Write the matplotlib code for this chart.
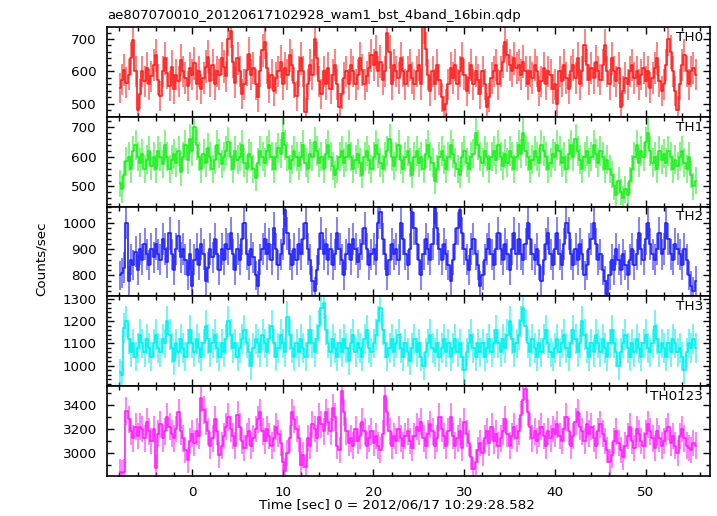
"""
WAM light curve, 5 energy bands stacked (QDP style).
"""
import numpy as np
import matplotlib
matplotlib.use('Agg')
import matplotlib.pyplot as plt
from matplotlib.ticker import MultipleLocator

# ==============================================================================
# Data (counts/sec per 0.25 s bin, starting at T0)
# ==============================================================================
T0 = -8.1
DT = 0.25

TITLE = 'ae807070010_20120617102928_wam1_bst_4band_16bin.qdp'
XLABEL = 'Time [sec] 0 = 2012/06/17 10:29:28.582'
YLABEL = 'Counts/sec'
BANDS = ['TH0', 'TH1', 'TH2', 'TH3', 'TH0123']

th0 = [548, 575, 605, 565, 590, 640, 697, 600, 482, 530, 600, 570, 610, 560, 585, 620,
       650, 575, 525, 600, 640, 595, 555, 615, 545, 590, 570, 635, 600, 580, 555, 610,
       590, 625, 560, 600, 545, 580, 615, 645, 570, 620, 560, 600, 590, 640, 615, 585,
       700, 725, 630, 565, 640, 600, 530, 560, 605, 655, 590, 610, 560, 520, 600, 665,
       690, 610, 550, 590, 540, 580, 600, 630, 560, 610, 590, 650, 620, 565, 525, 600,
       640, 600, 475, 560, 620, 590, 700, 640, 570, 530, 600, 560, 610, 545, 590, 620,
       560, 490, 530, 580, 600, 560, 620, 600, 560, 590, 640, 605, 560, 585, 610, 650,
       620, 660, 600, 630, 575, 600, 720, 660, 560, 620, 600, 580, 640, 600, 560, 600,
       620, 580, 560, 600, 620, 560, 740, 670, 590, 540, 600, 560, 620, 575, 520, 480,
       500, 560, 610, 580, 620, 560, 600, 640, 590, 540, 580, 620, 560, 600, 575, 530,
       600, 560, 490, 520, 580, 600, 620, 560, 600, 630, 690, 650, 620, 600, 640, 610,
       620, 590, 630, 600, 560, 600, 580, 620, 600, 540, 570, 610, 560, 600, 590, 545,
       560, 500, 600, 570, 620, 580, 545, 600, 620, 580, 640, 560, 600, 680, 620, 575,
       610, 580, 630, 600, 575, 620, 680, 600, 560, 640, 600, 570, 610, 490, 540, 580,
       560, 600, 620, 580, 600, 560, 590, 610, 570, 600, 550, 580, 610, 640, 570, 540,
       560, 620, 700, 660, 600, 540, 480, 560, 620, 650, 600, 560, 600, 610, 590]

th1 = [510, 490, 540, 585, 600, 560, 620, 640, 600, 580, 610, 560, 590, 620, 570, 600,
       560, 620, 600, 575, 640, 600, 560, 590, 610, 580, 620, 550, 600, 640, 590, 660,
       620, 700, 640, 600, 560, 610, 580, 630, 600, 560, 590, 640, 610, 575, 600, 620,
       650, 600, 560, 620, 590, 600, 640, 580, 560, 610, 600, 560, 530, 580, 620, 600,
       580, 620, 640, 600, 560, 600, 630, 610, 680, 640, 600, 560, 590, 620, 600, 570,
       600, 640, 580, 560, 610, 600, 650, 620, 580, 600, 560, 610, 640, 600, 570, 540,
       560, 600, 620, 580, 600, 640, 600, 560, 590, 610, 580, 540, 600, 620, 590, 560,
       600, 640, 610, 580, 560, 600, 620, 660, 600, 570, 600, 640, 590, 560, 600, 620,
       580, 540, 600, 620, 580, 600, 560, 610, 640, 600, 580, 520, 560, 600, 620, 590,
       560, 600, 640, 610, 580, 560, 540, 600, 620, 580, 560, 600, 610, 680, 640, 600,
       580, 620, 600, 560, 600, 620, 590, 640, 600, 570, 610, 580, 620, 600, 560, 600,
       640, 610, 680, 620, 600, 560, 590, 620, 600, 580, 640, 620, 600, 560, 580, 610,
       600, 640, 620, 580, 600, 560, 610, 640, 600, 660, 620, 590, 560, 600, 620, 580,
       600, 640, 610, 580, 620, 600, 560, 590, 560, 540, 500, 470, 520, 480, 460, 490,
       470, 520, 560, 600, 640, 580, 620, 600, 650, 680, 620, 580, 600, 560, 620, 590,
       610, 580, 620, 600, 560, 590, 570, 600, 620, 580, 560, 600, 540, 500, 520]

th2 = [800, 810, 830, 1000, 780, 860, 840, 890, 820, 900, 860, 920, 880, 840, 900, 870,
       920, 880, 860, 940, 900, 850, 960, 880, 820, 900, 950, 870, 900, 860, 800, 880,
       760, 860, 900, 840, 920, 880, 780, 830, 900, 870, 940, 880, 820, 900, 860, 920,
       900, 960, 880, 820, 900, 860, 940, 1000, 880, 840, 900, 870, 800, 760, 860, 900,
       940, 880, 920, 860, 980, 900, 840, 880, 920, 1050, 960, 880, 840, 900, 860, 920,
       880, 940, 1000, 900, 860, 780, 740, 820, 900, 960, 880, 920, 860, 900, 840, 880,
       960, 900, 860, 800, 880, 920, 860, 940, 900, 850, 880, 920, 980, 900, 840, 880,
       900, 860, 1000, 1040, 940, 880, 800, 860, 920, 880, 900, 860, 1000, 940, 880, 840,
       900, 1040, 980, 920, 860, 800, 880, 940, 900, 860, 920, 1060, 980, 900, 860, 920,
       880, 840, 780, 860, 920, 980, 1050, 960, 900, 860, 820, 900, 940, 880, 840, 760,
       800, 860, 900, 940, 880, 840, 900, 960, 900, 860, 920, 880, 820, 900, 960, 880,
       940, 880, 860, 920, 1000, 940, 880, 860, 900, 840, 780, 860, 920, 960, 880, 840,
       900, 960, 880, 840, 920, 1000, 960, 880, 840, 900, 860, 920, 880, 800, 840, 900,
       940, 1000, 920, 860, 880, 820, 780, 730, 800, 860, 820, 900, 860, 820, 880, 840,
       800, 860, 900, 840, 880, 960, 900, 860, 940, 1000, 920, 880, 860, 900, 960, 880,
       900, 1000, 940, 880, 860, 920, 900, 880, 840, 900, 860, 800, 760, 740, 780]

th3 = [970, 960, 1170, 1200, 1120, 1060, 1100, 1040, 1080, 1140, 1100, 1060, 1120, 1080, 1040, 1100,
       1140, 1080, 1060, 1120, 1100, 1200, 1140, 1080, 1020, 1100, 1060, 1120, 1080, 1040, 1100, 1160,
       1100, 1060, 1120, 1080, 1040, 1100, 1180, 1120, 1060, 1100, 1140, 1080, 1040, 1100, 1060, 1120,
       1200, 1140, 1080, 1100, 1040, 1080, 1120, 1160, 1100, 1060, 1000, 1080, 1120, 1100, 1060, 1140,
       1100, 1060, 1120, 1180, 1100, 1040, 1080, 1140, 1100, 1060, 1220, 1140, 1080, 1040, 1100, 1060,
       1120, 1080, 1040, 1100, 1160, 1100, 1060, 1120, 1180, 1260, 1280, 1160, 1100, 1060, 1120, 1080,
       1040, 1100, 1060, 1120, 1080, 1020, 1100, 1140, 1060, 1100, 1080, 1040, 1120, 1160, 1080, 1060,
       1100, 1140, 1200, 1260, 1160, 1100, 1040, 1080, 1120, 1060, 1100, 1140, 1080, 1040, 1100, 1060,
       1020, 1080, 1120, 1060, 1100, 1040, 1000, 1060, 1100, 1140, 1080, 1060, 1100, 1040, 1080, 1120,
       1060, 1100, 1040, 1080, 1120, 1060, 1100, 1040, 980, 1060, 1100, 1140, 1080, 1040, 1100, 1060,
       1100, 1040, 1080, 1120, 1060, 1100, 1160, 1100, 1060, 1120, 1080, 1140, 1200, 1120, 1060, 1100,
       1140, 1200, 1260, 1180, 1100, 1060, 1120, 1080, 1040, 1100, 1060, 1120, 1160, 1100, 1060, 1040,
       1080, 1120, 1060, 1100, 1140, 1080, 1040, 1100, 1160, 1120, 1060, 1100, 1200, 1140, 1080, 1040,
       1100, 1060, 1140, 1100, 1060, 1120, 1080, 1040, 1100, 1160, 1100, 1060, 1000, 1060, 1100, 1140,
       1080, 1040, 1100, 1060, 1120, 1080, 1040, 1100, 1140, 1080, 1060, 1100, 1180, 1120, 1060, 1100,
       1080, 1040, 1100, 1060, 1120, 1100, 1060, 1080, 1040, 980, 1060, 1100, 1080, 1120, 1080]

th0123 = [2840, 2830, 2840, 3350, 3280, 3180, 3120, 3220, 3140, 3220, 3200, 3120, 3260, 3180, 3100, 3200,
          2870, 3160, 3240, 3120, 3180, 3300, 3220, 3160, 3120, 3200, 3340, 3180, 3120, 3020, 2940, 3100,
          3160, 3080, 3180, 3140, 3460, 3360, 3260, 3180, 3060, 3120, 3280, 3180, 2980, 3060, 3140, 3220,
          3300, 3200, 3140, 3060, 3320, 3220, 3100, 3040, 3140, 3180, 3060, 3120, 3200, 3280, 3340, 3180,
          3100, 3200, 3140, 3060, 3120, 3220, 3160, 3080, 2920, 2850, 3000, 3120, 3340, 3280, 3200, 3120,
          2900, 2980, 2880, 3120, 3060, 3240, 3200, 3120, 3300, 3240, 3180, 3340, 3260, 3180, 3380, 3300,
          3060, 3020, 3520, 3340, 3180, 3080, 3120, 3060, 3200, 3100, 3140, 3260, 3180, 3060, 3120, 3180,
          3080, 3140, 3060, 3020, 3160, 3480, 3340, 3180, 3060, 3140, 3100, 3200, 3120, 3060, 3140, 3180,
          3100, 3040, 3140, 3220, 3180, 3260, 3120, 3060, 3160, 3240, 3180, 3060, 3120, 3300, 3200, 3140,
          3060, 3180, 3300, 3140, 3060, 3120, 3180, 3040, 3260, 3160, 3080, 2960, 2860, 2920, 3020, 3080,
          3000, 3120, 3180, 3080, 3220, 3100, 3160, 3060, 3120, 3180, 3280, 3160, 3060, 3140, 3220, 3120,
          3180, 3320, 3440, 3540, 3340, 3220, 3120, 3180, 3100, 3160, 3220, 3140, 3060, 3180, 3120, 3200,
          3160, 3240, 3140, 3100, 3200, 3300, 3180, 3060, 3140, 3260, 3340, 3220, 3180, 3100, 3240, 3160,
          3220, 3120, 3060, 3180, 3240, 3160, 3100, 3020, 2920, 2980, 3100, 3180, 3080, 3020, 2960, 3060,
          3140, 3220, 3100, 3040, 3200, 3160, 3100, 3060, 3160, 3240, 3180, 3120, 3040, 3180, 3120, 3060,
          3100, 3180, 3220, 3080, 3140, 3060, 3000, 3140, 3200, 3120, 3060, 3040, 3020, 3080, 3060]

SERIES = [th0, th1, th2, th3, th0123]
COLORS = ['#ff2020', '#20ee20', '#2020ff', '#00f0f0', '#ff20ff']
YLIMS = [(460, 737), (432, 735), (720, 1062), (908, 1311), (2804, 3560)]
YMAJOR = [100, 100, 100, 100, 200]
YMINOR = [20, 20, 20, 20, 100]
XLIM = (-9.4, 57.1)

# ==============================================================================
# Plot
# ==============================================================================
FS = 9.5
plt.rcParams['font.family'] = ['DejaVu Sans']
plt.rcParams['font.size'] = FS

W, H = 717, 516
fig = plt.figure(figsize=(W / 100, H / 100), dpi=100)

left, right = 106.7 / W, 710 / W
top_px, bot_px = 27, 476
panel_h = (bot_px - top_px) / len(SERIES) / H

for i, (vals, color, band) in enumerate(zip(SERIES, COLORS, BANDS)):
    y = np.array(vals, dtype=float)
    t = T0 + DT * (np.arange(len(y)) + 0.5)
    err = np.sqrt(y * DT) / DT  # poisson error on the rate

    bottom = 1 - bot_px / H + (len(SERIES) - 1 - i) * panel_h
    ax = fig.add_axes([left, bottom, right - left, panel_h])

    ax.errorbar(t, y, yerr=err, fmt='none', ecolor=color, elinewidth=1.3, alpha=0.6)
    ax.step(t, y, where='mid', color=color, lw=1.2)

    ax.set_xlim(*XLIM)
    ax.set_ylim(*YLIMS[i])
    ax.xaxis.set_major_locator(MultipleLocator(10))
    ax.xaxis.set_minor_locator(MultipleLocator(2))
    ax.yaxis.set_major_locator(MultipleLocator(YMAJOR[i]))
    ax.yaxis.set_minor_locator(MultipleLocator(YMINOR[i]))
    ax.tick_params(which='both', direction='in', top=True, right=True, width=1.0)
    ax.tick_params(which='major', length=5, pad=7, labelsize=FS + 0.2)
    ax.tick_params(which='minor', length=3)
    for sp in ax.spines.values():
        sp.set_linewidth(1.2)
    if i < len(SERIES) - 1:
        ax.tick_params(labelbottom=False)

    ax.text(0.988, 0.885, band, transform=ax.transAxes, ha='right', va='center', fontsize=FS + 0.2)

fig.text(107 / W, 1 - 15 / H, TITLE, ha='left', va='center', fontsize=FS)
fig.text(41 / W, 1 - 259 / H, YLABEL, ha='center', va='center', rotation=90, fontsize=FS + 0.2)
fig.text(397 / W, 1 - 505 / H, XLABEL, ha='center', va='center', fontsize=FS + 0.2)

fig.savefig('out.png', dpi=100)
